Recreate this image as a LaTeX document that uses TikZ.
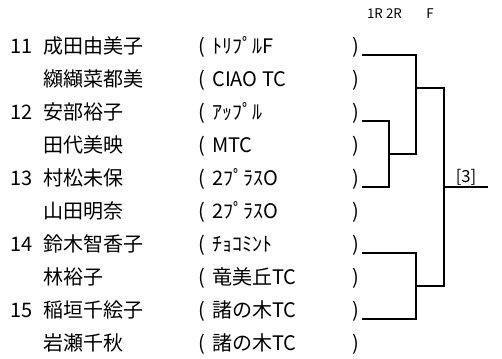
\documentclass[tikz,border=0pt]{standalone}
\usepackage{fontspec}
\setmainfont{Noto Sans CJK JP}
\usetikzlibrary{positioning}

\begin{document}
\begin{tikzpicture}[x=0.75pt,y=-0.75pt,
 entry/.style={font=\fontsize{15}{18}\selectfont,inner sep=0pt,anchor=base west},
 seed/.style={entry,anchor=base east},
 head/.style={font=\fontsize{10}{12}\selectfont,inner sep=0pt,anchor=base},
 bracket/.style={line width=1.5pt}]
 \useasboundingbox (0,0) rectangle (502,358);

 \node[head] (R1) at(375,18) {1R};
 \node[head] (R2) at(394,18) {2R};
 \node[head] (RF) at(430,18) {F};

 \node[seed] (N1) at(33,53.5) {11};
 \node[entry] (A1) at(43,53.5) {成田由美子};
 \node[entry] (B1) at(198,53.5) {(};
 \node[entry] (C1) at(212,53.5) {ﾄﾘﾌﾟﾙF};
 \node[entry] (D1) at(352,53.5) {)};

 \node[entry] (A2) at(43,86.5) {纐纈菜都美};
 \node[entry] (B2) at(198,86.5) {(};
 \node[entry] (C2) at(212,86.5) {CIAO TC};
 \node[entry] (D2) at(352,86.5) {)};

 \node[seed] (N3) at(33,119.5) {12};
 \node[entry] (A3) at(43,119.5) {安部裕子};
 \node[entry] (B3) at(198,119.5) {(};
 \node[entry] (C3) at(212,119.5) {ｱｯﾌﾟﾙ};
 \node[entry] (D3) at(352,119.5) {)};

 \node[entry] (A4) at(43,152.5) {田代美映};
 \node[entry] (B4) at(198,152.5) {(};
 \node[entry] (C4) at(212,152.5) {MTC};
 \node[entry] (D4) at(352,152.5) {)};

 \node[seed] (N5) at(33,185.5) {13};
 \node[entry] (A5) at(43,185.5) {村松未保};
 \node[entry] (B5) at(198,185.5) {(};
 \node[entry] (C5) at(212,185.5) {2ﾌﾟﾗｽO};
 \node[entry] (D5) at(352,185.5) {)};

 \node[entry] (A6) at(43,218.5) {山田明奈};
 \node[entry] (B6) at(198,218.5) {(};
 \node[entry] (C6) at(212,218.5) {2ﾌﾟﾗｽO};
 \node[entry] (D6) at(352,218.5) {)};

 \node[seed] (N7) at(33,251.5) {14};
 \node[entry] (A7) at(43,251.5) {鈴木智香子};
 \node[entry] (B7) at(198,251.5) {(};
 \node[entry] (C7) at(212,251.5) {ﾁｮｺﾐﾝﾄ};
 \node[entry] (D7) at(352,251.5) {)};

 \node[entry] (A8) at(43,284.5) {林裕子};
 \node[entry] (B8) at(198,284.5) {(};
 \node[entry] (C8) at(212,284.5) {竜美丘TC};
 \node[entry] (D8) at(352,284.5) {)};

 \node[seed] (N9) at(33,317.5) {15};
 \node[entry] (A9) at(43,317.5) {稲垣千絵子};
 \node[entry] (B9) at(198,317.5) {(};
 \node[entry] (C9) at(212,317.5) {諸の木TC};
 \node[entry] (D9) at(352,317.5) {)};

 \node[entry] (A10) at(43,350.5) {岩瀬千秋};
 \node[entry] (B10) at(198,350.5) {(};
 \node[entry] (C10) at(212,350.5) {諸の木TC};
 \node[entry] (D10) at(352,350.5) {)};

 % line ends and match points
 \coordinate (E1) at(362,54.5);
 \coordinate (E3) at(362,120.5);
 \coordinate (E5) at(362,186.5);
 \coordinate (E7) at(362,252.5);
 \coordinate (E9) at(362,318.5);
 \coordinate (W35) at(389,153.5);
 \coordinate (W1) at(416,87.5);
 \coordinate (W79) at(416,285.5);
 \coordinate (WF) at(444,186.5);
 \coordinate (WIN) at(488,186.5);

 \draw[bracket] (E3) -| (W35);
 \draw[bracket] (E5) -| (W35);
 \draw[bracket] (W35) -| (W1);
 \draw[bracket] (E1) -| (W1);
 \draw[bracket] (E7) -| (W79);
 \draw[bracket] (E9) -| (W79);
 \draw[bracket] (W1) -| (WF);
 \draw[bracket] (W79) -| (WF);
 \draw[bracket] (WF) -- coordinate(FW) (WIN);

 \node[head,font=\fontsize{12.5}{14}\selectfont] (L) at([yshift=2.8pt]FW) {[3]};

\end{tikzpicture}
\end{document}
